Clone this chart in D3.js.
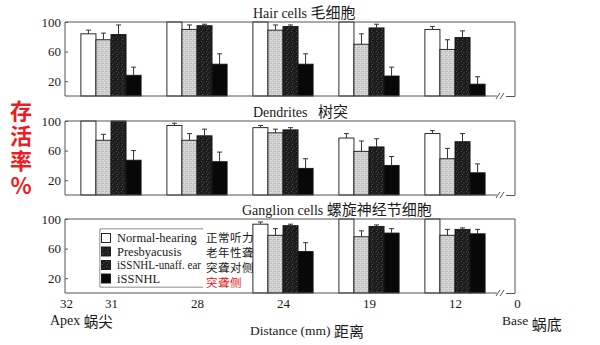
<!DOCTYPE html>
<html>
<head>
<meta charset="utf-8">
<script src="https://cdn.jsdelivr.net/npm/d3@7"></script>
<style>
  html, body { margin: 0; padding: 0; background: #fff; }
  svg { display: block; }
  .serif { font-family: "Liberation Serif", "DejaVu Serif", serif; fill: #1a1a1a; }
  .cjk { font-family: "Noto Sans CJK SC", sans-serif; fill: #1a1a1a; }
</style>
</head>
<body>
<svg id="chart" width="600" height="345"></svg>
<script>
// Cochlear position groups (distance from base, mm)
const categories = ["31", "28", "24", "19", "12"];
const xTickLabels = ["32", "31", "28", "24", "19", "12", "0"];
const yTicks = [20, 60, 100];

const seriesNames = ["Normal-hearing", "Presbyacusis", "iSSNHL-unaff. ear", "iSSNHL"];
const seriesNamesZh = ["正常听力", "老年性聋", "突聋对侧", "突聋侧"];

// Hair cells: percent survival and upper error
const hairNormal   = [84, 100, 100, 100, 90];
const hairPresby   = [76, 90, 89, 70, 63];
const hairUnaff    = [83, 95, 94, 92, 79];
const hairIssnhl   = [28, 43, 43, 27, 16];
const hairNormalErr = [5, 0, 0, 0, 4];
const hairPresbyErr = [9, 6, 7, 14, 13];
const hairUnaffErr  = [13, 2, 2, 5, 9];
const hairIssnhlErr = [11, 14, 14, 12, 10];

// Dendrites
const dendNormal   = [100, 94, 91, 77, 83];
const dendPresby   = [74, 74, 84, 59, 49];
const dendUnaff    = [100, 80, 88, 65, 72];
const dendIssnhl   = [47, 45, 36, 40, 30];
const dendNormalErr = [0, 3, 3, 6, 4];
const dendPresbyErr = [8, 9, 5, 14, 14];
const dendUnaffErr  = [0, 9, 3, 11, 11];
const dendIssnhlErr = [13, 13, 13, 12, 12];

// Ganglion cells (no data at the two apical positions)
const gangNormal   = [null, null, 93, 100, 100];
const gangPresby   = [null, null, 78, 76, 78];
const gangUnaff    = [null, null, 91, 90, 86];
const gangIssnhl   = [null, null, 56, 81, 80];
const gangNormalErr = [0, 0, 3, 0, 0];
const gangPresbyErr = [0, 0, 9, 8, 8];
const gangUnaffErr  = [0, 0, 2, 2, 2];
const gangIssnhlErr = [0, 0, 12, 6, 6];

const panels = [
  { en: "Hair cells", zh: "毛细胞", gap: "\u00a0", titleX: 253,
    values: [hairNormal, hairPresby, hairUnaff, hairIssnhl],
    errors: [hairNormalErr, hairPresbyErr, hairUnaffErr, hairIssnhlErr] },
  { en: "Dendrites", zh: "树突", gap: "\u00a0\u00a0\u00a0", titleX: 253,
    values: [dendNormal, dendPresby, dendUnaff, dendIssnhl],
    errors: [dendNormalErr, dendPresbyErr, dendUnaffErr, dendIssnhlErr] },
  { en: "Ganglion cells", zh: "螺旋神经节细胞", gap: "\u00a0", titleX: 242,
    values: [gangNormal, gangPresby, gangUnaff, gangIssnhl],
    errors: [gangNormalErr, gangPresbyErr, gangUnaffErr, gangIssnhlErr] }
];

const svg = d3.select("#chart");

// Fill textures
const defs = svg.append("defs");
const light = defs.append("pattern").attr("id", "speckleLight")
  .attr("patternUnits", "userSpaceOnUse").attr("width", 4).attr("height", 4);
light.append("rect").attr("width", 4).attr("height", 4).attr("fill", "#dcdcdc");
[[0.6, 0.6], [2.6, 1.4], [1.4, 3.0], [3.4, 3.4]].forEach(([cx, cy]) =>
  light.append("rect").attr("x", cx).attr("y", cy).attr("width", 0.9).attr("height", 0.9).attr("fill", "#8a8a8a"));

const dark = defs.append("pattern").attr("id", "speckleDark")
  .attr("patternUnits", "userSpaceOnUse").attr("width", 5).attr("height", 5);
dark.append("rect").attr("width", 5).attr("height", 5).attr("fill", "#1c1c1c");
[[1, 1], [3.5, 2.5], [2, 4]].forEach(([cx, cy]) =>
  dark.append("rect").attr("x", cx).attr("y", cy).attr("width", 0.8).attr("height", 0.8).attr("fill", "#6a6a6a"));

const fills = ["#ffffff", "url(#speckleLight)", "url(#speckleDark)", "#080808"];

const frameLeft = 65, frameRight = 515;
const panelTops = [22, 121, 219];
const panelH = 74;

const x = d3.scaleBand().domain(categories).range([68, 498])
  .paddingInner(0.3).paddingOuter(0.15);
const xs = d3.scaleBand().domain(seriesNames).range([0, x.bandwidth()]);

panels.forEach((p, pi) => {
  const top = panelTops[pi];
  const y = d3.scaleLinear().domain([0, 100]).range([top + panelH, top]);
  const g = svg.append("g");

  // title
  const t = g.append("text").attr("x", p.titleX).attr("y", top - 4)
    .attr("class", "serif").style("font-size", "14px");
  t.append("tspan").text(p.en + p.gap);
  t.append("tspan").attr("class", "cjk").style("font-size", "15px").text(p.zh);

  // bars
  p.values.forEach((vals, si) => {
    vals.forEach((v, ci) => {
      if (v == null) return;
      const bx = x(categories[ci]) + xs(seriesNames[si]);
      g.append("rect")
        .attr("x", bx).attr("width", xs.bandwidth())
        .attr("y", y(v)).attr("height", y(0) - y(v))
        .attr("fill", fills[si]).attr("stroke", "#151515").attr("stroke-width", 0.9);
      const e = p.errors[si][ci];
      if (e > 0) {
        const cx = bx + xs.bandwidth() / 2;
        const ye = y(Math.min(v + e, 100));
        g.append("line").attr("x1", cx).attr("x2", cx).attr("y1", y(v)).attr("y2", ye)
          .attr("stroke", "#333").attr("stroke-width", 1);
        g.append("line").attr("x1", cx - 2.5).attr("x2", cx + 2.5).attr("y1", ye).attr("y2", ye)
          .attr("stroke", "#333").attr("stroke-width", 1);
      }
    });
  });

  // frame with axis break near the base end
  const fr = g.append("g").attr("stroke", "#555").attr("stroke-width", 1).attr("fill", "none");
  fr.append("path").attr("d",
    `M${frameLeft},${y(0)} V${top} H${frameRight} V${y(0) + 0.5} H506`);
  fr.append("path").attr("d", `M${frameLeft},${y(0)} H497`);
  fr.append("path").attr("d", `M496,${y(0) + 3} L500,${y(0) - 3} M500,${y(0) + 3} L504,${y(0) - 3}`);

  // y axis
  const ax = g.append("g").attr("transform", `translate(${frameLeft},0)`)
    .call(d3.axisLeft(y).tickValues(yTicks).tickSize(-3).tickPadding(3));
  ax.select(".domain").remove();
  ax.selectAll(".tick line").attr("stroke", "#555");
  ax.selectAll(".tick text").attr("class", "serif").style("font-size", "13px").attr("fill", "#1a1a1a")
    .attr("dx", "-1");
});

// legend: boxed English key, Chinese labels set on a white strip beside it
const lg = svg.append("g");
lg.append("path").attr("d", "M203,229 H100 V287 H203")
  .attr("fill", "#fff").attr("stroke", "#666").attr("stroke-width", 1);
lg.append("rect").attr("x", 100.5).attr("y", 229.5).attr("width", 102).attr("height", 57).attr("fill", "#fff");
seriesNames.forEach((s, i) => {
  const ry = 238 + i * 13.5;
  lg.append("rect").attr("x", 101.5).attr("y", ry - 4.5).attr("width", 9).attr("height", 9)
    .attr("fill", i === 1 ? "url(#speckleDark)" : fills[i])
    .attr("stroke", "#111").attr("stroke-width", 0.9);
  const lt = lg.append("text").attr("class", "serif").attr("x", 117).attr("y", ry + 4)
    .style("font-size", "12.5px").text(s);
  if (i === 2) lt.attr("textLength", 84).attr("lengthAdjust", "spacingAndGlyphs");
});
lg.append("rect").attr("x", 204).attr("y", 229).attr("width", 48).attr("height", 60).attr("fill", "#fff");
seriesNamesZh.forEach((s, i) => {
  lg.append("text").attr("class", "cjk").attr("x", 206).attr("y", 242 + i * 15)
    .style("font-size", "11.5px").style("letter-spacing", "0.5px")
    .style("fill", i === 3 ? "#e02020" : "#1a1a1a")
    .text(s);
});

// x axis labels: apex end, group centres, base end
const xPos = d3.scaleOrdinal().domain(xTickLabels)
  .range([frameLeft + 1].concat(categories.map(c => x(c) + x.bandwidth() / 2), [frameRight + 2]));
const xa = svg.append("g").attr("transform", `translate(0,${panelTops[2] + panelH + 3})`)
  .call(d3.axisBottom(xPos).tickSize(0).tickPadding(3));
xa.select(".domain").remove();
xa.selectAll(".tick text").attr("class", "serif").style("font-size", "13px").attr("fill", "#1a1a1a");

const apex = svg.append("text").attr("x", 50).attr("y", 325).attr("class", "serif").style("font-size", "14px");
apex.append("tspan").text("Apex ");
apex.append("tspan").attr("class", "cjk").attr("dy", 2).style("font-size", "14.5px").text("蜗尖");

const base = svg.append("text").attr("x", 502).attr("y", 325).attr("class", "serif").style("font-size", "13.5px");
base.append("tspan").text("Base ");
base.append("tspan").attr("class", "cjk").attr("dy", 5).style("font-size", "15px").text("蜗底");

const xt = svg.append("text").attr("x", 307).attr("y", 335).attr("text-anchor", "middle")
  .attr("class", "serif").style("font-size", "13.5px");
xt.append("tspan").text("Distance (mm) ");
xt.append("tspan").attr("class", "cjk").attr("dy", 2).style("font-size", "15px").text("距离");

// y axis title, set vertically with upright glyphs
svg.append("text").attr("x", 21).attr("y", 100)
  .style("writing-mode", "vertical-rl").style("text-orientation", "upright")
  .style("letter-spacing", "3px")
  .style("font-family", "'Noto Sans CJK SC', sans-serif").style("font-weight", "bold")
  .style("font-size", "22px").style("fill", "#ee1c24")
  .text("存活率%");
</script>
</body>
</html>
